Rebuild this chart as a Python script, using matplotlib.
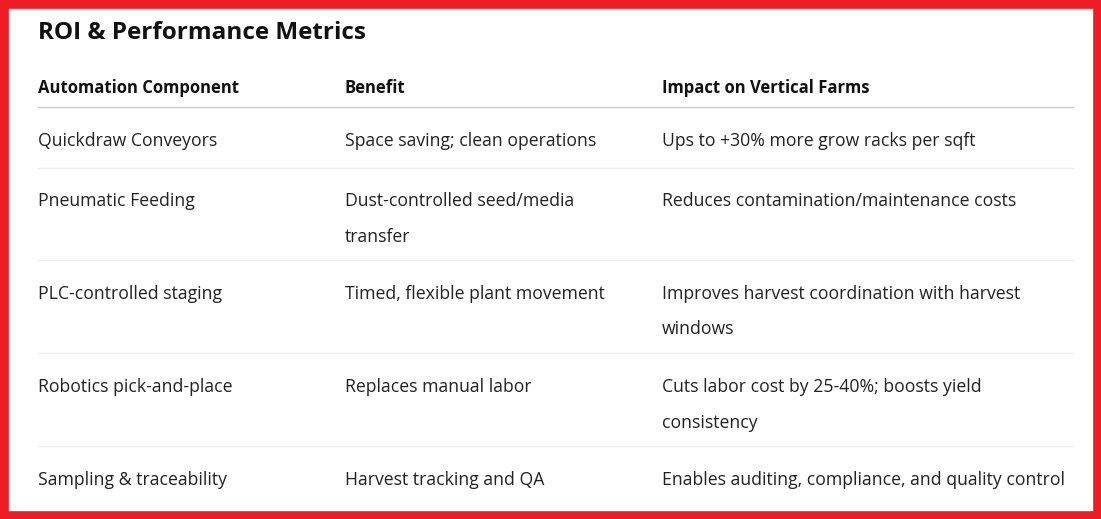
import matplotlib
matplotlib.use("Agg")
import matplotlib.pyplot as plt
from matplotlib.patches import Rectangle
from matplotlib.lines import Line2D

title = "ROI & Performance Metrics"
headers = ["Automation Component", "Benefit", "Impact on Vertical Farms"]
col1 = ["Quickdraw Conveyors", "Pneumatic Feeding", "PLC-controlled staging",
        "Robotics pick-and-place", "Sampling & traceability"]
col2 = ["Space saving; clean operations", "Dust-controlled seed/media\ntransfer",
        "Timed, flexible plant movement", "Replaces manual labor", "Harvest tracking and QA"]
col3 = ["Ups to +30% more grow racks per sqft", "Reduces contamination/maintenance costs",
        "Improves harvest coordination with harvest\nwindows",
        "Cuts labor cost by 25-40%; boosts yield\nconsistency",
        "Enables auditing, compliance, and quality control"]

W, H = 1101, 519
fig = plt.figure(figsize=(W/100, H/100), dpi=100)
plt.rcParams['font.family'] = ['Open Sans', 'DejaVu Sans']
def fx(x): return x / W
def fy(y): return 1 - y / H

fig.add_artist(Rectangle((0, 0), 1, 1, transform=fig.transFigure, fill=False,
                         edgecolor="#EE1C25", linewidth=12))
fig.text(fx(38), fy(33), title, fontsize=17.5, fontweight='bold', va='center', color='#111111')
xs = [38, 345, 662]
for x, h in zip(xs, headers):
    fig.text(fx(x), fy(88), h, fontsize=12, fontweight='bold', va='center', color='#111111')
fig.add_artist(Line2D([fx(38), fx(1073)], [fy(107), fy(107)], color='#cccccc', lw=1))

row_top = [138, 198, 291, 384, 477]
seps = [168, 260, 353, 446]
for i in range(len(col1)):
    for x, txt in zip(xs, [col1[i], col2[i], col3[i]]):
        fig.text(fx(x), fy(row_top[i] - 6), txt, fontsize=12.7, va='top',
                 color='#222222', linespacing=2.25)
for s in seps:
    fig.add_artist(Line2D([fx(38), fx(1073)], [fy(s), fy(s)], color='#eeeeee', lw=1))

fig.savefig("out.png", dpi=100, facecolor='white')
